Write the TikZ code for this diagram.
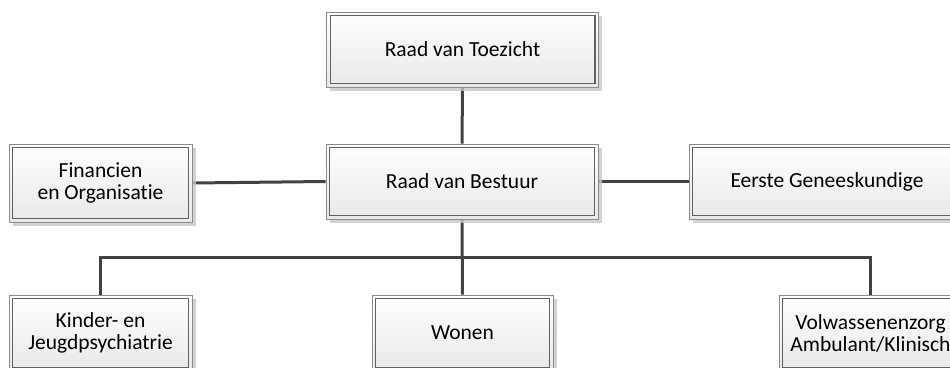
\documentclass[tikz,border=0pt]{standalone}
\usepackage{fontspec}
\setmainfont[Ligatures=NoCommon]{Carlito}
\usetikzlibrary{shadows,backgrounds,calc}
\begin{document}
\begin{tikzpicture}[x=1pt,y=-1pt,
  orgbox/.style={rectangle, draw=black!45, line width=0.9pt, top color=white, bottom color=black!9,
    inner sep=0pt, align=center, font=\fontsize{21.5}{22}\selectfont,
    drop shadow={shadow xshift=3.5pt, shadow yshift=-3.5pt, fill=black!22, opacity=0.8}},
  big/.style={minimum width=272pt, minimum height=75pt},
  small/.style={minimum width=183pt, minimum height=76pt},
  innerline/.style={draw=black!62, line width=1.1pt},
  conn/.style={draw=black!74, line width=3pt}]
\useasboundingbox (0,0) rectangle (950,367);
\clip (0,0) rectangle (950,367);
\node[orgbox,big] (rvt) at (462.5,49.5) {Raad van Toezicht};
\node[orgbox,big] (rvb) at (462,181.5) {Raad van Bestuur};
\node[orgbox,small,minimum height=78pt] (fin) at (100.5,183) {Financien\\en Organisatie};
\node[orgbox,big,minimum width=276pt] (eg) at (827,181.5) {Eerste Geneeskundige};
\node[orgbox,small] (kj) at (100.5,333) {Kinder- en\\Jeugdpsychiatrie};
\node[orgbox,small,minimum width=181pt] (won) at (462.5,333) {Wonen};
\node[orgbox,small] (vol) at (870.5,333) {Volwassenenzorg\\Ambulant/Klinisch};
\foreach \n in {rvt,rvb,fin,eg,kj,won,vol}
  \draw[innerline] ([shift={(4pt,-4pt)}]\n.north west) rectangle ([shift={(-4pt,4pt)}]\n.south east);
\coordinate (bus) at (462,257);
\begin{scope}[on background layer]
\draw[conn] (rvt.south) -- (rvb.north);
\draw[conn] (fin.east) -- (rvb.west);
\draw[conn] (rvb.east) -- (eg.west);
\draw[conn] (rvb.south) -- (won.north);
\draw[conn] (kj.north) |- (bus) -| (vol.north);
\end{scope}
\end{tikzpicture}
\end{document}
